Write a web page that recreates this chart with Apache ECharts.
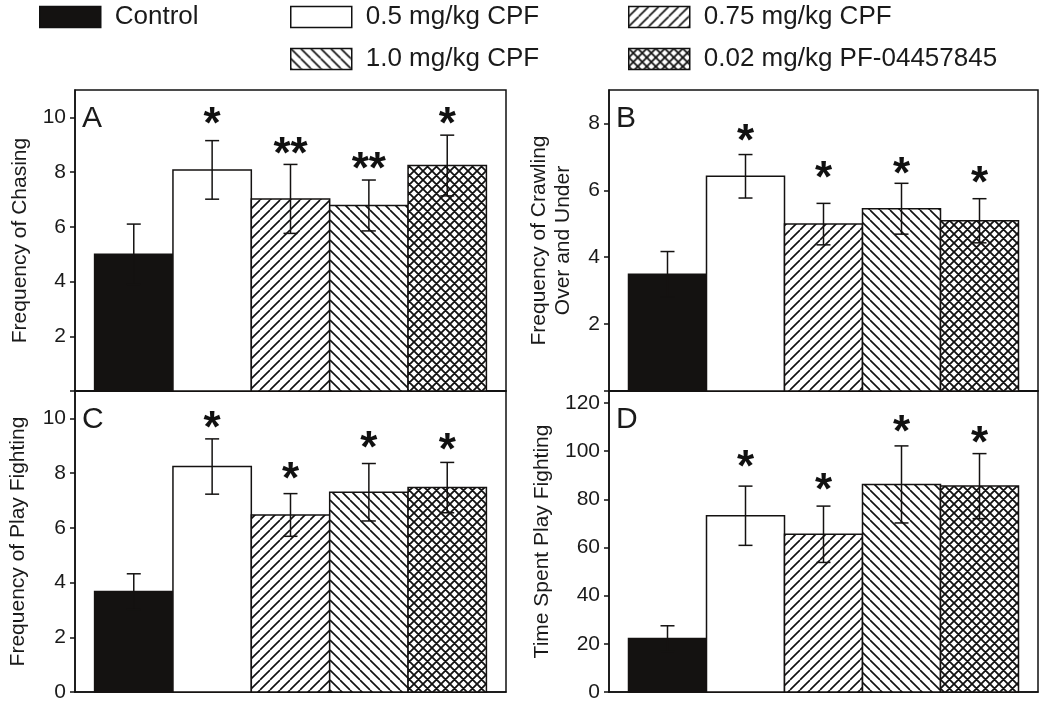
<!DOCTYPE html>
<html><head><meta charset="utf-8">
<script src="https://cdn.jsdelivr.net/npm/echarts@6/dist/echarts.min.js"></script>
<style>html,body{margin:0;padding:0;background:#fff}#c{width:1050px;height:707px}</style>
</head><body><div id="c"></div>
<script>
// ---- data ----
const groups = ['Control', '0.5 mg/kg CPF', '0.75 mg/kg CPF', '1.0 mg/kg CPF', '0.02 mg/kg PF-04457845'];

const meanA = [5.0, 8.08, 7.02, 6.78, 8.24];
const errA  = [1.1, 1.07, 1.26, 0.93, 1.11];
const starYA = [null, 10.05, 8.97, 8.42, 10.05];
const starTxtA = ['', '*', '**', '**', '*'];

const meanB = [3.49, 6.42, 4.99, 5.45, 5.09];
const errB  = [0.68, 0.65, 0.62, 0.76, 0.66];
const starYB = [null, 7.72, 6.61, 6.73, 6.45];
const starTxtB = ['', '*', '*', '*', '*'];

const meanC = [3.67, 8.24, 6.47, 7.30, 7.47];
const errC  = [0.65, 1.01, 0.78, 1.05, 0.92];
const starYC = [null, 9.96, 8.09, 9.23, 9.15];
const starTxtC = ['', '*', '*', '*', '*'];

const meanD = [22.2, 73.2, 65.5, 86.2, 85.5];
const errD  = [5.3, 12.3, 11.7, 16.0, 13.5];
const starYD = [null, 96.7, 87.3, 111.5, 106.9];
const starTxtD = ['', '*', '*', '*', '*'];

const ticksA = [2, 4, 6, 8, 10];
const ticksB = [2, 4, 6, 8];
const ticksC = [0, 2, 4, 6, 8, 10];
const ticksD = [0, 20, 40, 60, 80, 100, 120];

const axisNames = ['Frequency of Chasing', 'Frequency of Crawling\nOver and Under', 'Frequency of Play Fighting', 'Time Spent Play Fighting'];
const panelLetters = ['A', 'B', 'C', 'D'];

// ---- styles ----
const FONT = 'Liberation Sans, Arial, sans-serif';
const INK = '#1a1a1a';
const BLACK = '#141211';

function makePattern(kind, p, w) {
  const c = document.createElement('canvas');
  c.width = p; c.height = p;
  const ctx = c.getContext('2d');
  ctx.fillStyle = '#fff'; ctx.fillRect(0, 0, p, p);
  ctx.strokeStyle = '#111'; ctx.lineWidth = w;
  ctx.beginPath();
  for (const k of [-p, 0, p]) {
    if (kind === 'fwd' || kind === 'cross') { ctx.moveTo(k, p); ctx.lineTo(k + p, 0); }
    if (kind === 'back' || kind === 'cross') { ctx.moveTo(k, 0); ctx.lineTo(k + p, p); }
  }
  ctx.stroke();
  return { image: c, repeat: 'repeat' };
}
const fills = [BLACK, '#ffffff', makePattern('fwd', 10, 1.6), makePattern('back', 10, 1.6), makePattern('cross', 9, 1.8)];

const grids = [
  { left: 75, top: 90, width: 431, height: 301 },
  { left: 609, top: 90, width: 429, height: 301 },
  { left: 75, top: 391, width: 431, height: 301 },
  { left: 609, top: 391, width: 429, height: 301 }
];
const yMax = [11, 9, 11, 125];
const yInt = [2, 2, 2, 20];
const yTicks = [ticksA, ticksB, ticksC, ticksD];
const nameGaps = [43, 34, 45, 55];

const panels = [
  [meanA, errA, starYA, starTxtA],
  [meanB, errB, starYB, starTxtB],
  [meanC, errC, starYC, starTxtC],
  [meanD, errD, starYD, starTxtD]
];

const series = [];
panels.forEach((pd, pi) => {
  const [means, errs, starYs, starTxts] = pd;
  groups.forEach((g, j) => {
    series.push({
      type: 'custom', name: g, xAxisIndex: pi, yAxisIndex: pi, silent: true,
      itemStyle: { color: fills[j], borderColor: BLACK, borderWidth: 1.5 },
      data: [[j, means[j], errs[j], starYs[j] == null ? NaN : starYs[j]]],
      renderItem: function (params, api) {
        const x = api.value(0), m = api.value(1), e = api.value(2), sy = api.value(3);
        const p0 = api.coord([x - 0.5, 0]);
        const p1 = api.coord([x + 0.5, m]);
        const top = api.coord([x, m + e]);
        const bot = api.coord([x, m - e]);
        const cap = 7;
        const lineStyle = { stroke: BLACK, lineWidth: 1.5 };
        const children = [
          { type: 'rect', shape: { x: p0[0], y: p1[1], width: p1[0] - p0[0], height: p0[1] - p1[1] },
            style: { fill: fills[j], stroke: BLACK, lineWidth: 1.5 } },
          { type: 'line', shape: { x1: top[0], y1: top[1], x2: bot[0], y2: bot[1] }, style: lineStyle },
          { type: 'line', shape: { x1: top[0] - cap, y1: top[1], x2: top[0] + cap, y2: top[1] }, style: lineStyle },
          { type: 'line', shape: { x1: bot[0] - cap, y1: bot[1], x2: bot[0] + cap, y2: bot[1] }, style: lineStyle }
        ];
        if (!isNaN(sy) && starTxts[j]) {
          const sp = api.coord([x, sy]);
          children.push({ type: 'text', x: sp[0], y: sp[1] + 10,
            style: { text: starTxts[j], fontSize: 44, fontWeight: 'bold', fontFamily: FONT, fill: '#111',
              align: 'center', verticalAlign: 'middle', textAlign: 'center', textVerticalAlign: 'middle' } });
        }
        return { type: 'group', children: children };
      }
    });
  });
});

const option = {
  animation: false,
  backgroundColor: '#fff',
  legend: [
    { data: [groups[0]], left: 39, top: 4, orient: 'vertical' },
    { data: [groups[1], groups[3]], left: 290, top: 4, orient: 'vertical', itemGap: 16 },
    { data: [groups[2], groups[4]], left: 628, top: 4, orient: 'vertical', itemGap: 16 }
  ].map(l => Object.assign(l, {
    icon: 'rect', itemWidth: 61, itemHeight: 21, selectedMode: false, padding: 0,
    itemStyle: { borderColor: '#111', borderWidth: 1.5 },
    textStyle: { fontSize: 26, fontFamily: FONT, color: INK, padding: [0, 0, 0, 9] }
  })),
  grid: grids.map(g => Object.assign({ show: true, borderColor: '#111', borderWidth: 1.5, backgroundColor: 'transparent' }, g)),
  xAxis: grids.map((g, i) => ({
    type: 'value', gridIndex: i, min: -0.75, max: 4.75,
    axisLine: { show: true, onZero: false, lineStyle: { color: '#111', width: 1.5 } },
    axisTick: { show: false }, axisLabel: { show: false }, splitLine: { show: false }
  })),
  yAxis: grids.map((g, i) => ({
    type: 'value', gridIndex: i, min: 0, max: yMax[i], interval: yInt[i],
    name: axisNames[i], nameLocation: 'middle', nameGap: nameGaps[i], nameRotate: 90,
    nameTextStyle: { fontSize: 21, fontFamily: FONT, color: INK, lineHeight: 24 },
    axisLine: { show: true, onZero: false, lineStyle: { color: '#111', width: 1.5 } },
    axisTick: { show: true, length: 5, lineStyle: { color: '#111', width: 1.5 }, customValues: yTicks[i].concat(i < 2 ? [0] : []) },
    axisLabel: { fontSize: 21, fontFamily: FONT, color: INK, margin: 9, customValues: yTicks[i],
      formatter: v => (yTicks[i].indexOf(v) >= 0 ? String(v) : '') },
    splitLine: { show: false }
  })),
  graphic: panelLetters.map((t, i) => ({
    type: 'text', left: grids[i].left + 7, top: grids[i].top + 14, z: 100,
    style: { text: t, fontSize: 30, fontFamily: FONT, fill: INK }
  })),
  series: series
};

const chart = echarts.init(document.getElementById('c'), null, { renderer: 'canvas' });
chart.setOption(option);
</script>
</body></html>
